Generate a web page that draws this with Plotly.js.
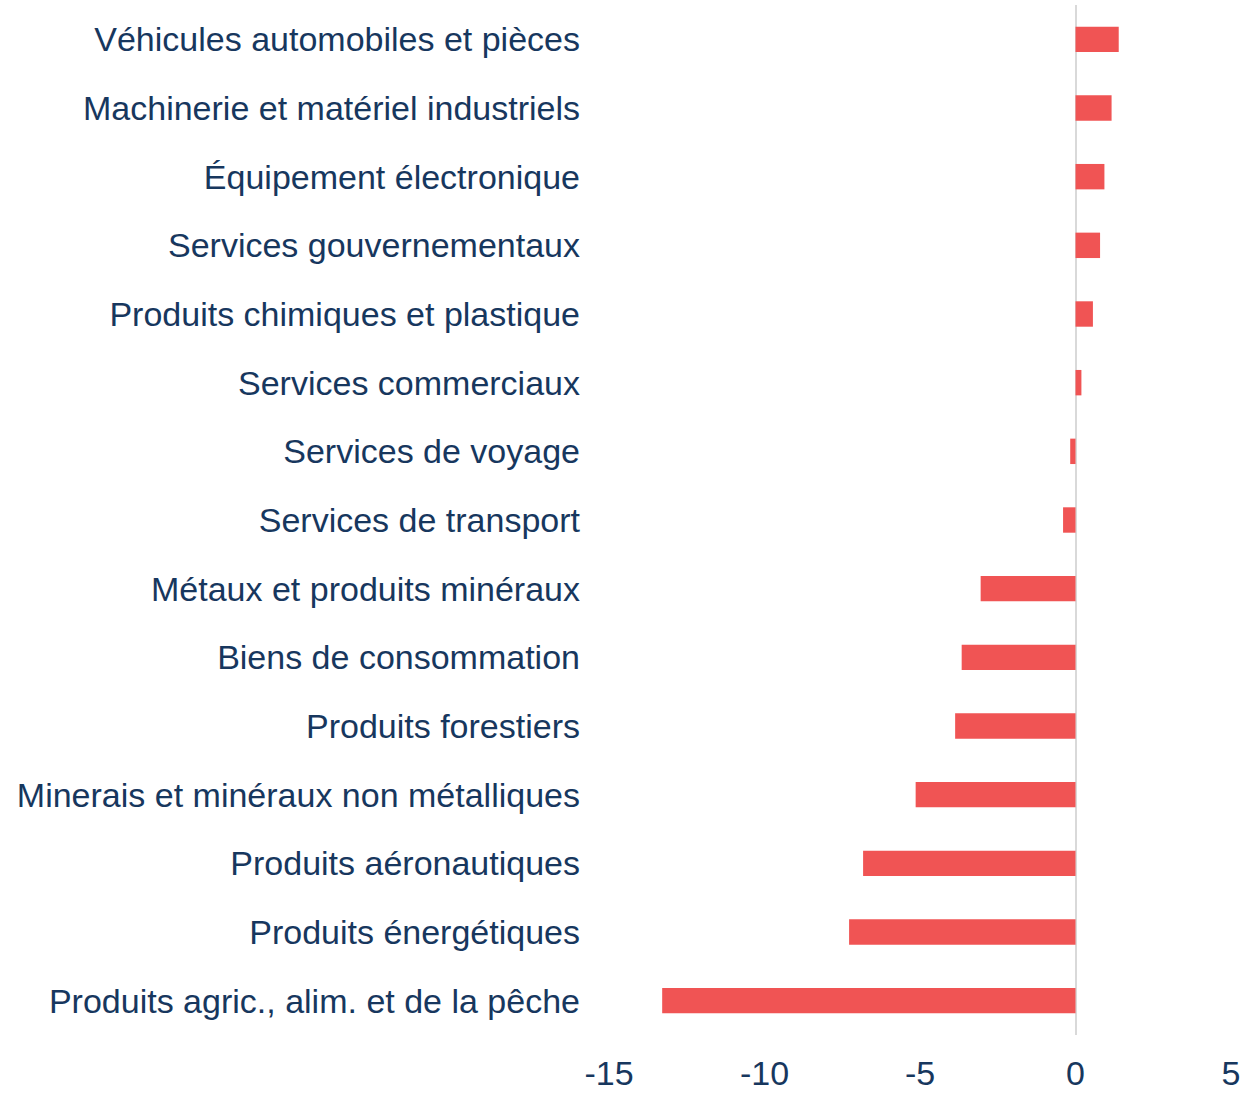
<!DOCTYPE html>
<html>
<head>
<meta charset="utf-8">
<script src="https://cdn.plot.ly/plotly-3.0.1.min.js"></script>
<style>html,body{margin:0;padding:0;background:#fff;}#chart{width:1253px;height:1093px;}</style>
</head>
<body>
<div id="chart"></div>
<script>
const categories = [
  "Véhicules automobiles et pièces",
  "Machinerie et matériel industriels",
  "Équipement électronique",
  "Services gouvernementaux",
  "Produits chimiques et plastique",
  "Services commerciaux",
  "Services de voyage",
  "Services de transport",
  "Métaux et produits minéraux",
  "Biens de consommation",
  "Produits forestiers",
  "Minerais et minéraux non métalliques",
  "Produits aéronautiques",
  "Produits énergétiques",
  "Produits agric., alim. et de la pêche"
];
const values = [1.39, 1.16, 0.93, 0.79, 0.56, 0.19, -0.17, -0.40, -3.05, -3.66, -3.87, -5.14, -6.83, -7.28, -13.29];
const xTicks = [-15, -10, -5, 0, 5];

const textColor = "#17375E";
const barColor = "#F05454";

Plotly.newPlot("chart", [{
  type: "bar",
  orientation: "h",
  y: categories,
  x: values,
  marker: {color: barColor},
  hoverinfo: "x+y"
}], {
  width: 1253,
  height: 1093,
  margin: {l: 609, r: 22, t: 5, b: 58},
  paper_bgcolor: "#fff",
  plot_bgcolor: "#fff",
  bargap: 0.63,
  showlegend: false,
  font: {family: "Liberation Sans, Arial, sans-serif", color: textColor},
  xaxis: {
    range: [-15, 5],
    tickvals: xTicks,
    ticktext: xTicks.map(String),
    showgrid: false,
    zeroline: true,
    zerolinecolor: "#d9d9d9",
    zerolinewidth: 2,
    showline: false,
    ticks: "",
    ticklabelstandoff: 15,
    tickfont: {size: 34, color: textColor}
  },
  yaxis: {
    autorange: "reversed",
    showgrid: false,
    zeroline: false,
    showline: false,
    ticks: "",
    ticklabelstandoff: 28,
    tickfont: {size: 34, color: textColor}
  }
}, {displayModeBar: false, staticPlot: true});
</script>
</body>
</html>
